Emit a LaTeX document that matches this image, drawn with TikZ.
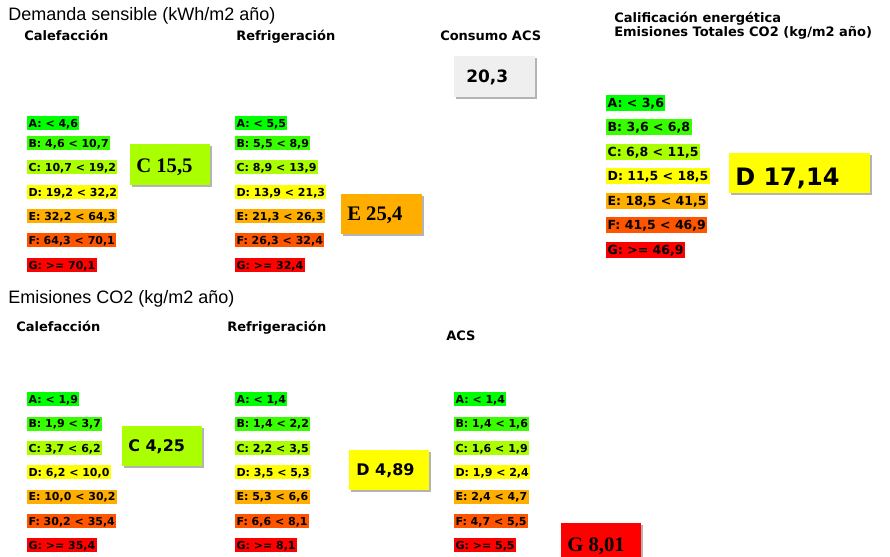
\documentclass[tikz,border=0pt]{standalone}
\usepackage{fontspec}
\setmainfont{Liberation Sans}
\newfontfamily\dvs{DejaVu Sans}
\newfontfamily\lserif{Liberation Serif}
\usetikzlibrary{shadows}
\definecolor{cA}{HTML}{00FF00}
\definecolor{cB}{HTML}{38FF00}
\definecolor{cC}{HTML}{AAFF00}
\definecolor{cD}{HTML}{FFFF00}
\definecolor{cE}{HTML}{FFAE00}
\definecolor{cF}{HTML}{FF5500}
\definecolor{cG}{HTML}{FF0000}
\definecolor{cGray}{HTML}{EFEFEF}
\definecolor{shade}{HTML}{B4B4B4}
\tikzset{
  hdr/.style={anchor=west, inner sep=0pt, text height=9.67pt, text depth=0pt,
    font=\fontsize{13.5pt}{16pt}\selectfont},
  sub/.style={anchor=west, inner sep=0pt, text height=7.1pt, text depth=0pt,
    font=\dvs\bfseries\fontsize{9.75pt}{12pt}\selectfont},
  lbl/.style={anchor=west, inner xsep=1pt, inner ysep=0pt, minimum height=10.5pt,
    text height=6pt, text depth=0pt, font=\dvs\bfseries\fontsize{8.25pt}{10pt}\selectfont},
  lblbig/.style={lbl, minimum height=12pt, text height=6.85pt,
    font=\dvs\bfseries\fontsize{9.4pt}{11pt}\selectfont},
  valbox/.style={anchor=north west, inner sep=0pt,
    drop shadow={shadow xshift=1.2pt, shadow yshift=-1.2pt, shadow scale=1, fill=shade, opacity=1}},
  valsans/.style={anchor=west, inner sep=0pt, text height=8.75pt, text depth=0pt,
    font=\dvs\bfseries\fontsize{12pt}{14pt}\selectfont},
  valserif/.style={anchor=west, inner sep=0pt, text height=10.2pt, text depth=0pt,
    font=\lserif\bfseries\fontsize{15.5pt}{18pt}\selectfont},
}
\begin{document}
\begin{tikzpicture}[x=0.75pt,y=-0.75pt]
\useasboundingbox (0,0) rectangle (890,557);
\clip (0,0) rectangle (890,557);
\fill[white] (0,0) rectangle (890,557);

% ---------- Demanda sensible ----------
\node[hdr] (t1) at (8,14.5) {Demanda sensible (kWh/m2 año)};
\node[sub] (s1) at (24,36) {Calefacción};
\node[sub] (s2) at (236,36) {Refrigeración};
\node[sub] (s3) at (440,36) {Consumo ACS};
\node[sub] (s4) at (614,18) {Calificación energética};
\node[sub] (s5) at (614,31.5) {Emisiones Totales CO2 (kg/m2 año)};

\foreach \t/\y/\c [count=\i] in {{A: < 4,6}/123/cA, {B: 4,6 < 10,7}/143/cB,
    {C: 10,7 < 19,2}/167/cC, {D: 19,2 < 32,2}/192/cD, {E: 32,2 < 64,3}/216/cE,
    {F: 64,3 < 70,1}/240/cF, {G: >= 70,1}/265/cG}
  \node[lbl, fill=\c] (dh\i) at (27,\y) {\t};

\foreach \t/\y/\c [count=\i] in {{A: < 5,5}/123/cA, {B: 5,5 < 8,9}/143/cB,
    {C: 8,9 < 13,9}/167/cC, {D: 13,9 < 21,3}/192/cD, {E: 21,3 < 26,3}/216/cE,
    {F: 26,3 < 32,4}/240/cF, {G: >= 32,4}/265/cG}
  \node[lbl, fill=\c] (dr\i) at (235,\y) {\t};

\foreach \t/\y/\c [count=\i] in {{A: < 3,6}/103/cA, {B: 3,6 < 6,8}/127/cB,
    {C: 6,8 < 11,5}/152/cC, {D: 11,5 < 18,5}/176/cD, {E: 18,5 < 41,5}/201/cE,
    {F: 41,5 < 46,9}/225/cF, {G: >= 46,9}/250/cG}
  \node[lblbig, fill=\c] (ct\i) at (606,\y) {\t};

\node[valbox, fill=cGray, minimum width=60.75pt, minimum height=30.75pt] (vacs) at (454,56) {};
\node[anchor=west, inner sep=0pt, text height=9.3pt, text depth=0pt,
  font=\dvs\bfseries\fontsize{12.75pt}{15pt}\selectfont] (vacsT) at (466,76) {20,3};

\node[valbox, fill=cC, minimum width=60pt, minimum height=30.75pt] (vdh) at (130,144) {};
\node[valserif] (vdhT) at (136,166) {C 15,5};

\node[valbox, fill=cE, minimum width=60.75pt, minimum height=30pt] (vdr) at (341,194) {};
\node[valserif] (vdrT) at (347,214) {E 25,4};

\node[valbox, fill=cD, minimum width=105.75pt, minimum height=30pt] (vct) at (729,153) {};
\node[anchor=west, inner sep=0pt, text height=13.1pt, text depth=0pt,
  font=\dvs\bfseries\fontsize{18pt}{21pt}\selectfont] (vctT) at (735,177) {D 17,14};

% ---------- Emisiones CO2 ----------
\node[hdr] (t2) at (8,297) {Emisiones CO2 (kg/m2 año)};
\node[sub] (s6) at (16,327) {Calefacción};
\node[sub] (s7) at (227,327) {Refrigeración};
\node[sub] (s8) at (446,336) {ACS};

\foreach \t/\y/\c [count=\i] in {{A: < 1,9}/399/cA, {B: 1,9 < 3,7}/423.5/cB,
    {C: 3,7 < 6,2}/448/cC, {D: 6,2 < 10,0}/472/cD, {E: 10,0 < 30,2}/496.5/cE,
    {F: 30,2 < 35,4}/521/cF, {G: >= 35,4}/545/cG}
  \node[lbl, fill=\c] (eh\i) at (27,\y) {\t};

\foreach \t/\y/\c [count=\i] in {{A: < 1,4}/399/cA, {B: 1,4 < 2,2}/423.5/cB,
    {C: 2,2 < 3,5}/448/cC, {D: 3,5 < 5,3}/472/cD, {E: 5,3 < 6,6}/496.5/cE,
    {F: 6,6 < 8,1}/521/cF, {G: >= 8,1}/545/cG}
  \node[lbl, fill=\c] (er\i) at (235,\y) {\t};

\foreach \t/\y/\c [count=\i] in {{A: < 1,4}/399/cA, {B: 1,4 < 1,6}/423.5/cB,
    {C: 1,6 < 1,9}/448/cC, {D: 1,9 < 2,4}/472/cD, {E: 2,4 < 4,7}/496.5/cE,
    {F: 4,7 < 5,5}/521/cF, {G: >= 5,5}/545/cG}
  \node[lbl, fill=\c] (ea\i) at (454,\y) {\t};

\node[valbox, fill=cC, minimum width=60pt, minimum height=30pt] (veh) at (122,426) {};
\node[valsans] (vehT) at (128,446) {C 4,25};

\node[valbox, fill=cD, minimum width=60pt, minimum height=30pt] (ver) at (349,450) {};
\node[valsans] (verT) at (356,470) {D 4,89};

\node[valbox, fill=cG, minimum width=60pt, minimum height=30pt] (vea) at (561,523) {};
\node[valserif] (veaT) at (567,545) {G 8,01};
\end{tikzpicture}
\end{document}
